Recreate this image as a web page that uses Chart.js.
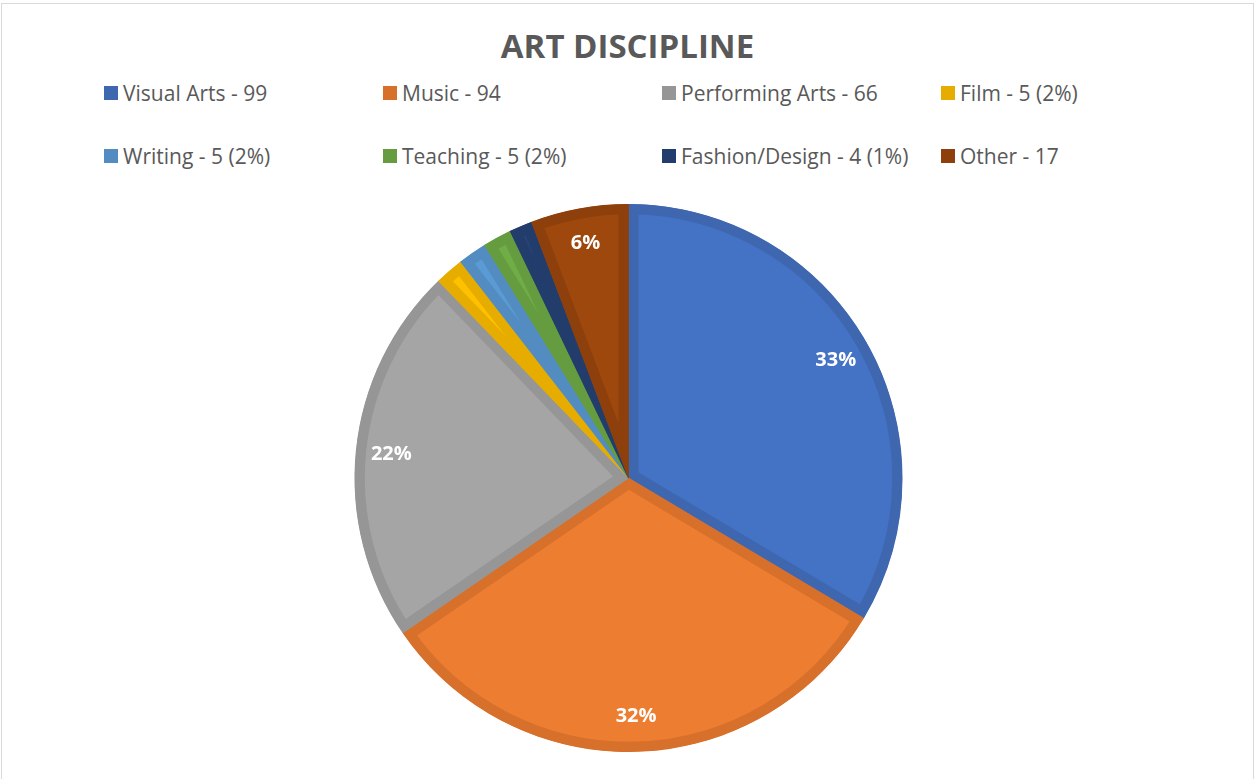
<!DOCTYPE html>
<html lang="en">
<head>
<meta charset="utf-8">
<title>Art Discipline</title>
<script src="https://cdn.jsdelivr.net/npm/chart.js@4.4.0/dist/chart.umd.min.js"></script>
<style>
  body { margin: 0; background: #fff; font-family: "Open Sans", sans-serif; }
  .frame { position: absolute; left: 1px; top: 3px; width: 1251px; height: 800px; border: 1px solid #d9d9d9; }
  #title { position: absolute; left: 0; top: 25px; width: 1255px; text-align: center;
           font-weight: bold; font-size: 33px; line-height: 42px; color: #595959; }
  #legend { position: absolute; left: 104px; top: 80px; display: grid;
            grid-template-columns: repeat(4, 279px); row-gap: 37px; }
  .item { display: flex; align-items: center; height: 26px; font-size: 21px; color: #595959; white-space: nowrap; }
  .item .box { width: 14px; height: 14px; margin-right: 5px; flex: none; }
  #wrap { position: absolute; left: 0; top: 0; width: 1255px; height: 779px; }
</style>
</head>
<body>
<div class="frame"></div>
<div id="title">ART DISCIPLINE</div>
<div id="legend"></div>
<div id="wrap"><canvas id="artChart"></canvas></div>

<script>
// 분야별 응답 수
const categories = ['Visual Arts', 'Music', 'Performing Arts', 'Film', 'Writing', 'Teaching', 'Fashion/Design', 'Other'];
const counts = [99, 94, 66, 5, 5, 5, 4, 17];
const legendLabels = ['Visual Arts - 99', 'Music - 94', 'Performing Arts - 66', 'Film - 5 (2%)',
                      'Writing - 5 (2%)', 'Teaching - 5 (2%)', 'Fashion/Design - 4 (1%)', 'Other - 17'];
const shownPercent = ['33%', '32%', '22%', '', '', '', '', '6%'];

const fillColors = ['#4472C4', '#ED7D31', '#A5A5A5', '#FFC000', '#5B9BD5', '#70AD47', '#264478', '#9E480E'];
const edgeColors = ['#3F67B0', '#D6702B', '#969696', '#E6AD00', '#528CC0', '#659C40', '#223D6C', '#8E400C'];

// legend (html)
const legendEl = document.getElementById('legend');
legendLabels.forEach((txt, i) => {
  const item = document.createElement('div');
  item.className = 'item';
  const box = document.createElement('span');
  box.className = 'box';
  box.style.background = edgeColors[i];
  item.appendChild(box);
  item.appendChild(document.createTextNode(txt));
  legendEl.appendChild(item);
});

// percent labels inside slices
const pctLabels = {
  id: 'pctLabels',
  afterDatasetsDraw(chart) {
    const ctx = chart.ctx;
    const meta = chart.getDatasetMeta(0);
    ctx.save();
    ctx.font = 'bold 20px "Open Sans"';
    ctx.fillStyle = '#ffffff';
    ctx.textAlign = 'center';
    ctx.textBaseline = 'middle';
    meta.data.forEach((arc, i) => {
      if (!shownPercent[i]) return;
      const mid = (arc.startAngle + arc.endAngle) / 2;
      const r = arc.outerRadius * 0.87;
      ctx.fillText(shownPercent[i], arc.x + Math.cos(mid) * r, arc.y + Math.sin(mid) * r);
    });
    ctx.restore();
  }
};

var ctx = document.getElementById('artChart').getContext('2d');
var artChart = new Chart(ctx, {
  type: 'pie',
  data: {
    labels: categories,
    datasets: [{
      data: counts,
      backgroundColor: fillColors,
      borderColor: edgeColors,
      borderWidth: 10,
      borderAlign: 'inner',
      borderJoinStyle: 'miter'
    }]
  },
  options: {
    responsive: true,
    maintainAspectRatio: false,
    animation: false,
    layout: { padding: { top: 204, bottom: 27, left: 2, right: 0 } },
    plugins: {
      legend: { display: false },
      title: { display: false },
      tooltip: { enabled: false }
    }
  },
  plugins: [pctLabels]
});
</script>
</body>
</html>
